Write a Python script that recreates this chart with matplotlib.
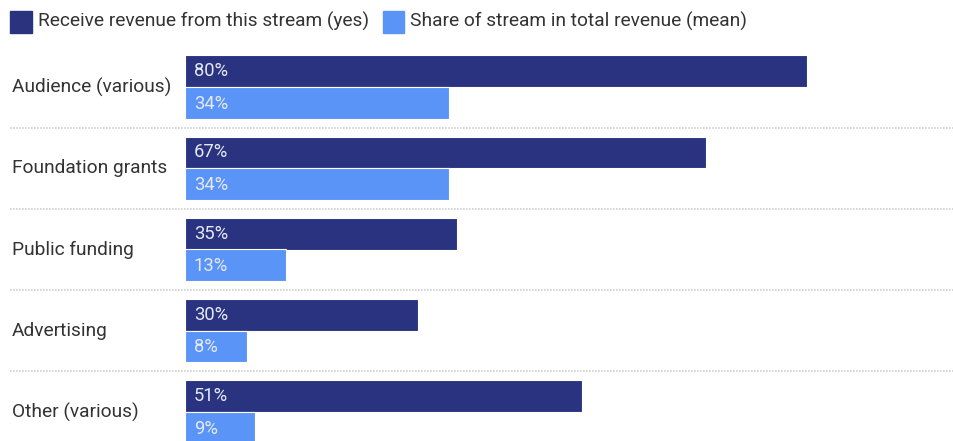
import matplotlib
matplotlib.use("Agg")
import matplotlib.pyplot as plt
from matplotlib.patches import Rectangle

categories = ["Audience (various)", "Foundation grants", "Public funding", "Advertising", "Other (various)"]
receive_yes = [80, 67, 35, 30, 51]
share_mean = [34, 34, 13, 8, 9]
series_names = ["Receive revenue from this stream (yes)", "Share of stream in total revenue (mean)"]

DARK = "#29337f"
LIGHT = "#5a94f7"
TEXT = "#333333"

plt.rcParams["font.family"] = ["Roboto", "DejaVu Sans"]

W, H = 954, 441
fig = plt.figure(figsize=(W / 100, H / 100), dpi=100)

x0 = 185
px_per_unit = 7.775
ax = fig.add_axes([x0 / W, 0, 1 - x0 / W, 1])
ax.set_xlim(0, (W - x0) / px_per_unit)
spacing = 81.25
ax.set_ylim((H - 412) / spacing + 4, -87 / spacing)
ax.axis("off")

bh = 0.39
for i, (cat, a, b) in enumerate(zip(categories, receive_yes, share_mean)):
    ax.barh(i - bh / 2, a, height=bh, color=DARK, edgecolor="white", linewidth=0.8)
    ax.barh(i + bh / 2, b, height=bh, color=LIGHT, edgecolor="white", linewidth=0.8)
    ax.text(9 / px_per_unit, i - bh / 2, f"{a}%", color="#e6e8f4", fontsize=13.2,
            va="center", ha="left")
    ax.text(9 / px_per_unit, i + bh / 2 + 0.01, f"{b}%", color="#e6e8f4", fontsize=13.2,
            va="center", ha="left")
    ax.text(-173 / px_per_unit, i, cat, color=TEXT, fontsize=13.8, va="center", ha="left")
    if i < len(categories) - 1:
        ax.plot([-175 / px_per_unit, (W - x0) / px_per_unit], [i + 0.5, i + 0.5],
                color="#cfcfcf", linestyle=(0, (1, 0.8)), linewidth=1.2, clip_on=False)

# legend
def fx(p):
    return p / W

def fy(p):
    return 1 - p / H

fig.add_artist(Rectangle((fx(10), fy(33)), 22 / W, 22 / H, color=DARK, transform=fig.transFigure))
fig.text(fx(38), fy(21), series_names[0], color=TEXT, fontsize=13.8, va="center", ha="left")
fig.add_artist(Rectangle((fx(383), fy(33)), 21 / W, 22 / H, color=LIGHT, transform=fig.transFigure))
fig.text(fx(410), fy(21), series_names[1], color=TEXT, fontsize=13.8, va="center", ha="left")

fig.savefig("out.png", dpi=100)
